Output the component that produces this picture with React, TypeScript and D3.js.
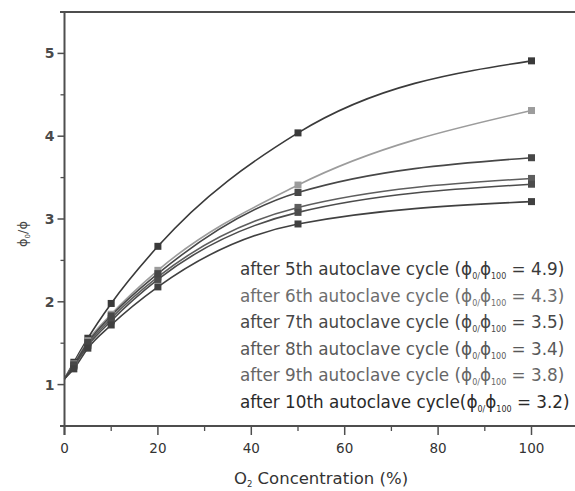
import React from "react";
import * as d3 from "d3";

// O2 concentrations (%) at which the quenching ratio was measured
const concentrations = [2, 5, 10, 20, 50, 100];

// phi0/phi per autoclave cycle
const cycle5 = [1.27, 1.56, 1.98, 2.67, 4.04, 4.91];
const cycle6 = [1.25, 1.53, 1.85, 2.38, 3.41, 4.31];
const cycle7 = [1.23, 1.49, 1.8, 2.3, 3.14, 3.49];
const cycle8 = [1.22, 1.47, 1.77, 2.27, 3.08, 3.42];
const cycle9 = [1.24, 1.51, 1.83, 2.34, 3.32, 3.74];
const cycle10 = [1.19, 1.44, 1.72, 2.18, 2.94, 3.21];

// value of each fitted curve at 0 % O2
const intercepts = [1.07, 1.07, 1.07, 1.07, 1.07, 1.07];

const cycleNames = ["5th", "6th", "7th", "8th", "9th", "10th"];
const ratios100 = ["4.9", "4.3", "3.5", "3.4", "3.8", "3.2"];

const xTicks = [0, 20, 40, 60, 80, 100];
const xMinorTicks = [10, 30, 50, 70, 90, 110];
const yTicks = [1, 2, 3, 4, 5];
const yMinorTicks = [1.5, 2.5, 3.5, 4.5];

const seriesValues = [cycle5, cycle6, cycle7, cycle8, cycle9, cycle10];
const lineColors = ["#3a3a3a", "#9c9c9c", "#5e5e5e", "#4c4c4c", "#474747", "#404040"];
const textColors = ["#3a3a3a", "#6e6e6e", "#484848", "#585858", "#666666", "#2a2a2a"];

const W = 575;
const H = 491;
const FONT = "'DejaVu Sans', Verdana, sans-serif";
const AXIS = "#4e4e4e";

export default function App() {
  const x = d3.scaleLinear().domain([0, 110]).range([64.5, 578.2]);
  const y = d3.scaleLinear().domain([0.5, 5.5]).range([426, 12]);

  const line = d3
    .line<[number, number]>()
    .x((d) => x(d[0]))
    .y((d) => y(d[1]))
    .curve(d3.curveMonotoneX);

  const series = seriesValues.map((vals, i) => ({
    name: cycleNames[i],
    ratio: ratios100[i],
    color: lineColors[i],
    textColor: textColors[i],
    points: concentrations.map((c, j) => [c, vals[j]] as [number, number]),
    curve: [[0, intercepts[i]] as [number, number]].concat(
      concentrations.map((c, j) => [c, vals[j]] as [number, number])
    ),
  }));

  const x0 = x(0);
  const yBottom = y(0.5);
  const yTop = y(5.5);

  const legendX = 240;
  const legendY0 = 275;
  const legendStep = 26.5;

  return (
    <svg
      width={W}
      height={H}
      style={{ position: "absolute", left: 0, top: 0, background: "#fff" }}
      fontFamily={FONT}
    >
      <rect width={W} height={H} fill="#fff" />

      {/* curves */}
      {series.map((s) => (
        <path key={"c" + s.name} d={line(s.curve) || ""} fill="none" stroke={s.color} strokeWidth={1.6} />
      ))}

      {/* markers */}
      {series.map((s) =>
        s.points.map((p, j) => (
          <rect
            key={"m" + s.name + j}
            x={x(p[0]) - 3.5}
            y={y(p[1]) - 3.5}
            width={7}
            height={7}
            fill={s.color}
          />
        ))
      )}

      {/* frame */}
      <line x1={60} x2={W} y1={yTop} y2={yTop} stroke={AXIS} strokeWidth={2} />
      <line x1={x0} x2={x0} y1={yTop} y2={yBottom + 9} stroke={AXIS} strokeWidth={2} />
      <line x1={60} x2={W} y1={yBottom} y2={yBottom} stroke={AXIS} strokeWidth={2} />

      {/* x ticks */}
      {xTicks.map((t) => (
        <g key={"xt" + t}>
          <line x1={x(t)} x2={x(t)} y1={yBottom} y2={yBottom + 9} stroke={AXIS} strokeWidth={1.5} />
          <text x={x(t)} y={453} textAnchor="middle" fontSize={13.5} fill="#333">
            {t}
          </text>
        </g>
      ))}
      {xMinorTicks.map((t) => (
        <line key={"xm" + t} x1={x(t)} x2={x(t)} y1={yBottom} y2={yBottom + 5} stroke={AXIS} strokeWidth={1.3} />
      ))}

      {/* y ticks */}
      {yTicks.map((t) => (
        <g key={"yt" + t}>
          <line x1={x0 - 7} x2={x0} y1={y(t)} y2={y(t)} stroke={AXIS} strokeWidth={1.5} />
          <text x={x0 - 10} y={y(t) + 5} textAnchor="end" fontSize={14} fontWeight="bold" fill="#4a4a4a">
            {t}
          </text>
        </g>
      ))}
      {yMinorTicks.map((t) => (
        <line key={"ym" + t} x1={x0 - 4} x2={x0} y1={y(t)} y2={y(t)} stroke={AXIS} strokeWidth={1.3} />
      ))}

      {/* axis titles */}
      <text x={321} y={484} textAnchor="middle" fontSize={16.5} fill="#333">
        O<tspan fontSize={8.5} dy={3}>2</tspan>
        <tspan dy={-3}> Concentration (%)</tspan>
      </text>
      <text
        transform={`translate(27,234) rotate(-90)`}
        textAnchor="middle"
        fontSize={13}
        fill="#444"
      >
        ϕ<tspan fontSize={7} dy={3}>0</tspan>
        <tspan dy={-3}>/ϕ</tspan>
      </text>

      {/* legend */}
      {series.map((s, i) => (
        <text
          key={"l" + s.name}
          x={legendX}
          y={legendY0 + i * legendStep}
          fontSize={16.8}
          fill={s.textColor}
        >
          {`after ${s.name} autoclave cycle${s.name === "10th" ? "" : " "}(ϕ`}
          <tspan fontSize={8} dy={4}>0/</tspan>
          <tspan dy={-4}>ϕ</tspan>
          <tspan fontSize={8} dy={4}>100</tspan>
          <tspan dy={-4}>{` = ${s.ratio})`}</tspan>
        </text>
      ))}
    </svg>
  );
}
